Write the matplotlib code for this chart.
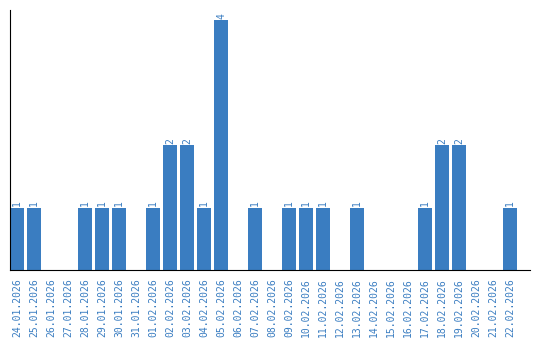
import matplotlib
matplotlib.use("Agg")
import matplotlib.pyplot as plt

dates = ["24.01.2026","25.01.2026","26.01.2026","27.01.2026","28.01.2026","29.01.2026",
         "30.01.2026","31.01.2026","01.02.2026","02.02.2026","03.02.2026","04.02.2026",
         "05.02.2026","06.02.2026","07.02.2026","08.02.2026","09.02.2026","10.02.2026",
         "11.02.2026","12.02.2026","13.02.2026","14.02.2026","15.02.2026","16.02.2026",
         "17.02.2026","18.02.2026","19.02.2026","20.02.2026","21.02.2026","22.02.2026"]
values = [1,1,0,0,1,1,1,0,1,2,2,1,4,0,1,0,1,1,1,0,1,0,0,0,1,2,2,0,0,1]

color = "#3a7dc1"
fig = plt.figure(figsize=(5.4, 3.4), dpi=100)
ax = fig.add_axes([10/540, 70/340, 520/540, 260/340])
x = list(range(len(dates)))
ax.bar(x, values, width=0.82, color=color)
for xi, v in zip(x, values):
    if v > 0:
        ax.text(xi, v + 0.02, str(v), rotation=90, ha="center", va="bottom",
                color=color, fontsize=7, family="DejaVu Sans Mono")
ax.set_xlim(-0.41, 30.17)
ax.set_ylim(0, 4.16)
ax.set_xticks(x)
ax.set_xticklabels(dates, rotation=90, color=color, fontsize=7, family="DejaVu Sans Mono")
ax.tick_params(axis="x", length=0, pad=6)
ax.set_yticks([])
ax.spines["top"].set_visible(False)
ax.spines["right"].set_visible(False)
ax.spines["left"].set_color("black")
ax.spines["bottom"].set_color("black")
fig.savefig("out.png", dpi=100)
